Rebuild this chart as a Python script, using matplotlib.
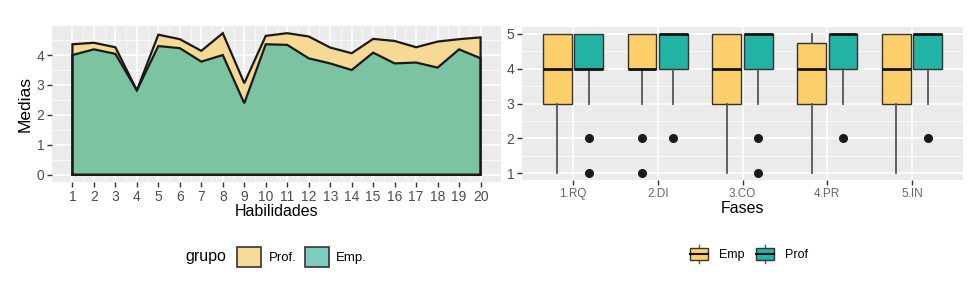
import matplotlib
matplotlib.use("Agg")
import matplotlib.pyplot as plt
from matplotlib.patches import Rectangle
from matplotlib.lines import Line2D
from matplotlib.legend_handler import HandlerBase
import numpy as np

plt.rcParams['font.family'] = ['Liberation Sans', 'DejaVu Sans']

# ---------------- data ----------------
habilidades = list(range(1, 21))
prof_medias = [4.36, 4.41, 4.26, 2.82, 4.68, 4.53, 4.14, 4.73, 3.06, 4.64,
               4.73, 4.62, 4.25, 4.06, 4.54, 4.47, 4.26, 4.45, 4.53, 4.59]
emp_medias = [4.00, 4.19, 4.04, 2.82, 4.30, 4.23, 3.78, 4.00, 2.39, 4.36,
              4.34, 3.89, 3.72, 3.50, 4.08, 3.72, 3.75, 3.58, 4.19, 3.89]

fases = ['1.RQ', '2.DI', '3.CO', '4.PR', '5.IN']
# box stats per fase: Emp
emp_q1 = [3, 4, 3, 3, 3]
emp_med = [4, 4, 4, 4, 4]
emp_q3 = [5, 5, 5, 4.75, 5]
emp_wlo = [1, 3, 1, 1, 1]
emp_whi = [5, 5, 5, 5, 5]
emp_out = [[], [2, 1], [], [], []]
# Prof
prof_q1 = [4, 4, 4, 4, 4]
prof_med = [4, 5, 5, 5, 5]
prof_q3 = [5, 5, 5, 5, 5]
prof_wlo = [3, 3, 3, 3, 3]
prof_whi = [5, 5, 5, 5, 5]
prof_out = [[2, 1], [2], [2, 1], [2], [2]]

# ---------------- style ----------------
W, H = 977, 283
fig = plt.figure(figsize=(W / 100, H / 100), dpi=100)
BG = '#EBEBEB'
YEL_AREA = '#F6D994'
GRN_AREA = '#7CC3A2'
YEL_BOX = '#FDCF6B'
TEAL_BOX = '#22B3A4'
TICKC = '#4D4D4D'


def ax_rect(l, r, t, b):
    return [l / W, 1 - b / H, (r - l) / W, (b - t) / H]


def gg_style(ax):
    ax.set_facecolor(BG)
    for s in ax.spines.values():
        s.set_visible(False)
    ax.tick_params(axis='both', which='major', color='#333333', length=3.5,
                   width=1, labelcolor=TICKC, labelsize=10, pad=2)
    ax.tick_params(axis='both', which='minor', length=0)
    ax.grid(True, which='major', color='white', lw=1.1)
    ax.grid(True, which='minor', color='white', lw=0.5)
    ax.set_axisbelow(True)


# ---------------- left panel ----------------
ax1 = fig.add_axes(ax_rect(52, 501, 26, 182))
gg_style(ax1)
x = np.array(habilidades)
ax1.fill_between(x, 0, prof_medias, color=YEL_AREA, lw=0, zorder=2)
ax1.fill_between(x, 0, emp_medias, color=GRN_AREA, lw=0, zorder=3)
for vals, z in ((prof_medias, 4), (emp_medias, 5)):
    xs = np.concatenate([[x[0]], x, [x[-1], x[0]]])
    ys = np.concatenate([[0], vals, [0, 0]])
    ax1.plot(xs, ys, color='#1a1a1a', lw=1.6, zorder=z, solid_joinstyle='miter')
ax1.set_xlim(0.05, 20.95)
ax1.set_ylim(-0.24, 4.97)
ax1.set_xticks(habilidades)
ax1.set_xticks(np.arange(1.5, 20, 1), minor=True)
ax1.set_yticks([0, 1, 2, 3, 4])
ax1.set_yticks([0.5, 1.5, 2.5, 3.5, 4.5], minor=True)
ax1.set_xlabel('Habilidades', fontsize=11.5, labelpad=0, color='black')
ax1.set_ylabel('Medias', fontsize=12.5, labelpad=3, color='black')

# ---------------- right panel ----------------
ax2 = fig.add_axes(ax_rect(522, 963, 27, 180))
gg_style(ax2)
pos = np.arange(len(fases))
off = 0.185
bw = 0.34


def make_stats(q1, med, q3, wlo, whi, out):
    return [dict(q1=a, med=b, q3=c, whislo=d, whishi=e, fliers=f)
            for a, b, c, d, e, f in zip(q1, med, q3, wlo, whi, out)]


for stats, shift, col in ((make_stats(emp_q1, emp_med, emp_q3, emp_wlo, emp_whi, emp_out), -off, YEL_BOX),
                          (make_stats(prof_q1, prof_med, prof_q3, prof_wlo, prof_whi, prof_out), off, TEAL_BOX)):
    ax2.bxp(stats, positions=pos + shift, widths=bw, patch_artist=True,
            showcaps=False, manage_ticks=False,
            boxprops=dict(facecolor=col, edgecolor='#333333', lw=1.0),
            medianprops=dict(color='#111111', lw=2.0),
            whiskerprops=dict(color='#555555', lw=1.3),
            flierprops=dict(marker='o', markerfacecolor='#1a1a1a',
                            markeredgecolor='#1a1a1a', markersize=5.5),
            zorder=3)
ax2.set_xlim(-0.6, 4.6)
ax2.set_ylim(0.8, 5.2)
ax2.set_xticks(pos)
ax2.set_xticklabels(fases)
ax2.set_yticks([1, 2, 3, 4, 5])
ax2.set_yticks([1.5, 2.5, 3.5, 4.5], minor=True)
ax2.tick_params(axis='x', which='major', labelsize=8.5, labelcolor='#666666')
ax2.grid(False, axis='x', which='minor')
ax2.set_xlabel('Fases', fontsize=11.5, labelpad=1, color='black')

# ---------------- legends ----------------
fig.text(206 / W, 1 - 257 / H, 'grupo', fontsize=11.5, ha='center', va='center')
lg1 = fig.legend(handles=[Rectangle((0, 0), 1, 1, facecolor='#F8DB97', edgecolor='#333333', lw=1.2),
                          Rectangle((0, 0), 1, 1, facecolor='#7ECBC0', edgecolor='#333333', lw=1.2)],
                 labels=['Prof.', 'Emp.'], ncol=2, frameon=False,
                 loc='center', bbox_to_anchor=(302 / W, 1 - 257 / H),
                 handlelength=1.85, handleheight=1.85, handletextpad=0.55,
                 columnspacing=0.6, fontsize=9.5, borderaxespad=0)


class BoxHandler(HandlerBase):
    def __init__(self, color):
        super().__init__()
        self.color = color

    def create_artists(self, legend, orig_handle, xdescent, ydescent, width,
                       height, fontsize, trans):
        cx = width / 2 - xdescent
        bx = Rectangle((-xdescent + width * 0.08, -ydescent + height * 0.2),
                       width * 0.84, height * 0.6, facecolor=self.color,
                       edgecolor='#333333', lw=1, transform=trans)
        med = Line2D([-xdescent + width * 0.08, -xdescent + width * 0.92],
                     [-ydescent + height / 2] * 2, color='#111111', lw=1.5,
                     transform=trans)
        w1 = Line2D([cx, cx], [-ydescent, -ydescent + height * 0.2],
                    color='#555555', lw=1, transform=trans)
        w2 = Line2D([cx, cx], [-ydescent + height * 0.8, -ydescent + height],
                    color='#555555', lw=1, transform=trans)
        return [w1, w2, bx, med]


h_emp = Rectangle((0, 0), 1, 1)
h_prof = Rectangle((0, 0), 1, 1, label='x')
lg2 = fig.legend(handles=[h_emp, h_prof], labels=['Emp', 'Prof'], ncol=2,
                 frameon=False, loc='center', bbox_to_anchor=(748 / W, 1 - 254 / H),
                 handlelength=1.75, handleheight=1.9, handletextpad=0.7,
                 columnspacing=0.8, fontsize=9, borderaxespad=0,
                 handler_map={h_emp: BoxHandler(YEL_BOX), h_prof: BoxHandler(TEAL_BOX)})

fig.savefig('out.png', dpi=100, facecolor='white')
